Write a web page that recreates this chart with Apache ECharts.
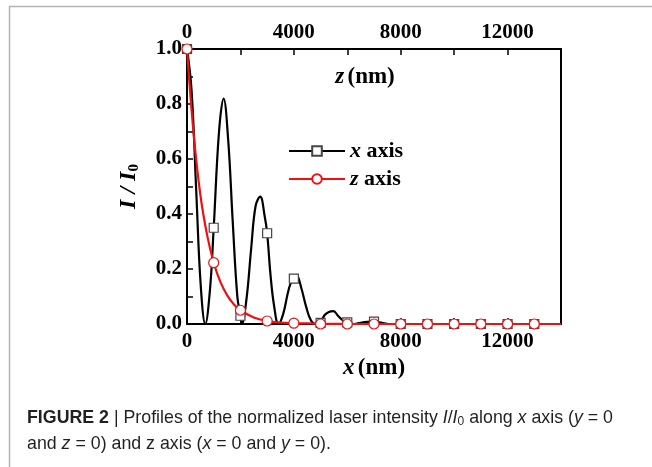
<!DOCTYPE html>
<html>
<head>
<meta charset="utf-8">
<script src="https://cdn.jsdelivr.net/npm/echarts@6/dist/echarts.min.js"></script>
<style>
  html, body { margin: 0; padding: 0; background: #fff; }
  #main { width: 652px; height: 467px; }
</style>
</head>
<body>
<div id="main"></div>
<script>
// x axis profile (black curve)
var xCurvePos = [0, 171, 343, 514, 685, 856, 1199, 1370, 1541, 1713, 1884, 2055, 2226, 2398, 2569, 2740, 2911,
    3125, 3254, 3425, 3596, 3768, 3870, 4100, 4281, 4453, 4624, 4795, 4966, 5138, 5309, 5480, 5651, 5823,
    6165, 6336, 6550, 6850, 7200, 7535, 14000];
var xCurveVal = [1.0, 0.85, 0.49, 0.14, 0.0, 0.12, 0.70, 0.82, 0.67, 0.37, 0.10, 0.0, 0.09, 0.27, 0.43, 0.463, 0.39,
    0.18, 0.07, 0.0, 0.035, 0.11, 0.145, 0.178, 0.13, 0.065, 0.016, 0.0, 0.011, 0.031, 0.044, 0.047, 0.03, 0.014,
    0.0, 0.001, 0.005, 0.009, 0.006, 0.0, 0.0];
// square markers on the x axis profile
var xMarkPos = [0, 1000, 2000, 3000, 4000, 5000, 6000, 7000, 8000, 9000, 10000, 11000, 12000, 13000];
var xMarkVal = [1.0, 0.35, 0.03, 0.33, 0.165, 0.004, 0.006, 0.009, 0.0, 0.0, 0.0, 0.0, 0.0, 0.0];

// z axis profile (red curve)
var zCurvePos = [0, 250, 500, 750, 1250, 1500, 1750, 2500, 3500, 5000, 14000];
var zCurveVal = [1.0, 0.69, 0.47, 0.325, 0.153, 0.105, 0.072, 0.024, 0.005, 0.0006, 0.0];
var zMarkPos = [0, 1000, 2000, 3000, 4000, 5000, 6000, 7000, 8000, 9000, 10000, 11000, 12000, 13000];
var zMarkVal = [1.0, 0.223, 0.05, 0.011, 0.003, 0.0, 0.0, 0.0, 0.0, 0.0, 0.0, 0.0, 0.0, 0.0];

var legendNames = ['x axis', 'z axis'];

var serif = 'Liberation Serif';
var sans = 'Liberation Sans';

// merge curve points and marker points, markers get a symbol
function buildData(cx, cy, mx, my) {
    var pts = [];
    for (var i = 0; i < cx.length; i++) {
        pts.push({ value: [cx[i], cy[i]], symbol: 'none' });
    }
    for (var j = 0; j < mx.length; j++) {
        pts.push({ value: [mx[j], my[j]] });
    }
    pts.sort(function (a, b) { return a.value[0] - b.value[0]; });
    return pts;
}

var chart = echarts.init(document.getElementById('main'));

var labelStyle = { fontFamily: serif, fontWeight: 'bold', fontSize: 21, color: '#000' };
var nameRich = {
    i: { fontFamily: serif, fontWeight: 'bold', fontStyle: 'italic', fontSize: 23, color: '#000' },
    t: { fontFamily: serif, fontWeight: 'bold', fontSize: 23, color: '#000' }
};

var option = {
    animation: false,
    grid: { left: 187, right: 91, top: 49, bottom: 143, outerBoundsMode: 'none' },
    legend: {
        data: legendNames,
        orient: 'vertical',
        left: 283,
        top: 135,
        itemWidth: 56,
        itemHeight: 12,
        itemGap: 6,
        formatter: function (name) {
            return '{i|' + name.charAt(0) + '}{t|' + name.slice(1) + '}';
        },
        textStyle: {
            rich: {
                i: { fontFamily: serif, fontWeight: 'bold', fontStyle: 'italic', fontSize: 22, color: '#000' },
                t: { fontFamily: serif, fontWeight: 'bold', fontSize: 22, color: '#000' }
            }
        }
    },
    xAxis: [
        {
            type: 'value', position: 'bottom', min: 0, max: 14000, interval: 4000,
            name: '{i|x} {t|(nm)}', nameLocation: 'middle', nameGap: 6,
            nameTextStyle: { rich: nameRich },
            axisLine: { onZero: false, lineStyle: { color: '#000', width: 2 } },
            axisTick: { inside: true, length: 6, lineStyle: { width: 1.5 } },
            minorTick: { show: true, splitNumber: 2, length: 6, lineStyle: { color: '#000', width: 1.5 } },
            axisLabel: Object.assign({
                margin: 7, showMaxLabel: false,
                formatter: function (v) { return String(v); }
            }, labelStyle),
            splitLine: { show: false }
        },
        {
            type: 'value', position: 'top', min: 0, max: 14000, interval: 4000,
            axisLine: { onZero: false, lineStyle: { color: '#000', width: 2 } },
            axisTick: { inside: true, length: 6, lineStyle: { width: 1.5 } },
            minorTick: { show: true, splitNumber: 2, length: 6, lineStyle: { color: '#000', width: 1.5 } },
            axisLabel: Object.assign({
                margin: 6, showMaxLabel: false,
                formatter: function (v) { return String(v); }
            }, labelStyle),
            splitLine: { show: false }
        }
    ],
    yAxis: [
        {
            type: 'value', position: 'left', min: 0, max: 1, interval: 0.2,
            name: '{i|I / I}{s|0}', nameLocation: 'middle', nameGap: 45,
            nameTextStyle: {
                rich: {
                    i: { fontFamily: serif, fontWeight: 'bold', fontStyle: 'italic', fontSize: 24, color: '#000' },
                    s: { fontFamily: serif, fontWeight: 'bold', fontSize: 15, color: '#000', padding: [12, 0, 0, 0] }
                }
            },
            axisLine: { onZero: false, lineStyle: { color: '#000', width: 2 } },
            axisTick: { inside: true, length: 6, lineStyle: { width: 1.5 } },
            minorTick: { show: true, splitNumber: 2, length: 6, lineStyle: { color: '#000', width: 1.5 } },
            axisLabel: Object.assign({
                margin: 5,
                formatter: function (v) { return v.toFixed(1); }
            }, labelStyle),
            splitLine: { show: false }
        },
        {
            type: 'value', position: 'right', min: 0, max: 1, interval: 0.2,
            axisLine: { show: true, onZero: false, lineStyle: { color: '#000', width: 2 } },
            axisTick: { show: false },
            axisLabel: { show: false },
            splitLine: { show: false }
        }
    ],
    series: [
        {
            name: legendNames[0],
            type: 'line',
            smooth: 0.4,
            symbol: 'rect',
            symbolSize: 9,
            showAllSymbol: true,
            lineStyle: { color: '#000', width: 2.2 },
            itemStyle: { color: '#fff', borderColor: '#444', borderWidth: 1.2 },
            data: buildData(xCurvePos, xCurveVal, xMarkPos, xMarkVal)
        },
        {
            name: legendNames[1],
            type: 'line',
            smooth: 0.4,
            symbol: 'circle',
            symbolSize: 10,
            showAllSymbol: true,
            lineStyle: { color: '#ee1111', width: 2.2 },
            itemStyle: { color: '#fff', borderColor: '#ee1111', borderWidth: 1.2 },
            data: buildData(zCurvePos, zCurveVal, zMarkPos, zMarkVal)
        }
    ],
    graphic: [
        {
            type: 'rect', silent: true,
            shape: { x: 9.5, y: 6.5, width: 700, height: 500 },
            style: { fill: 'none', stroke: '#b5b5b5', lineWidth: 1.5 }
        },
        {
            // name of the top (z) axis, drawn inside the plot
            type: 'text', silent: true,
            style: {
                x: 365, y: 77, align: 'center', verticalAlign: 'middle',
                text: '{i|z} {t|(nm)}',
                rich: {
                    i: { fontFamily: serif, fontWeight: 'bold', fontStyle: 'italic', fontSize: 23, fill: '#000' },
                    t: { fontFamily: serif, fontWeight: 'bold', fontSize: 23, fill: '#000' }
                }
            }
        },
        {
            type: 'text', left: 27, top: 405, silent: true,
            style: {
                text: '{b|FIGURE 2} | Profiles of the normalized laser intensity {it|I}/{it|I}{sub|0} along {it|x} axis ({it|y} = 0\n' +
                      'and {it|z} = 0) and z axis ({it|x} = 0 and {it|y} = 0).',
                fontFamily: sans,
                fontSize: 17.8,
                lineHeight: 26,
                fill: '#231f20',
                rich: {
                    b: { fontFamily: sans, fontWeight: 'bold', fontSize: 17.8, fill: '#231f20' },
                    it: { fontFamily: sans, fontStyle: 'italic', fontSize: 17.8, fill: '#231f20' },
                    sub: { fontFamily: sans, fontSize: 12, fill: '#231f20', padding: [8, 0, 0, 0] }
                }
            }
        }
    ]
};

chart.setOption(option);
</script>
</body>
</html>
